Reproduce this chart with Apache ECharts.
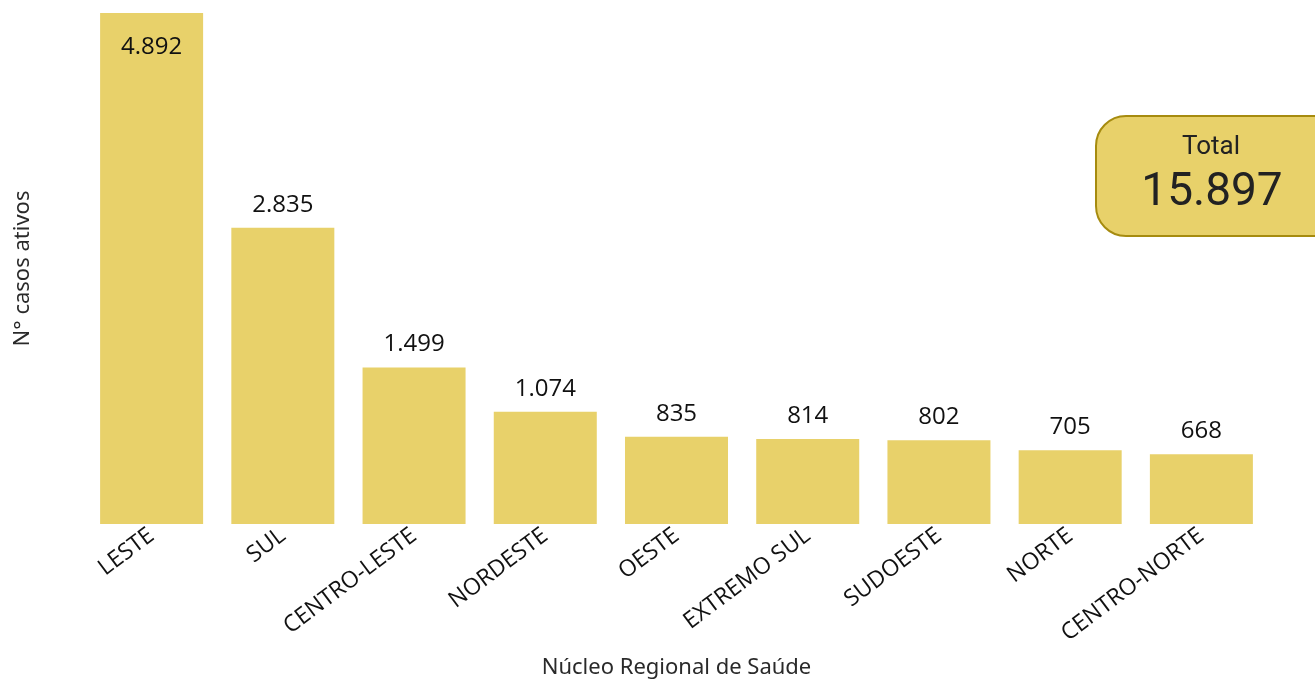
<!DOCTYPE html>
<html>
<head>
	<meta charset="utf-8">
	<title>Casos ativos por núcleo</title>
	<script src="https://cdn.jsdelivr.net/npm/echarts@6/dist/echarts.min.js"></script>
	<style>
		html, body { margin: 0; padding: 0; background: #fff; }
		#main { width: 1315px; height: 680px; }
	</style>
</head>
<body>
	<div id="main"></div>
	<script>
		var categories = ['LESTE', 'SUL', 'CENTRO-LESTE', 'NORDESTE', 'OESTE', 'EXTREMO SUL', 'SUDOESTE', 'NORTE', 'CENTRO-NORTE'];
		var casos = [4892, 2835, 1499, 1074, 835, 814, 802, 705, 668];
		var totalText = '15.897';

		function fmt(v) {
			return String(v).replace(/\B(?=(\d{3})+(?!\d))/g, '.');
		}

		var barData = casos.map(function (v, i) {
			var item = { value: v };
			// a barra maior leva o rótulo dentro
			if (i === 0) item.label = { position: 'insideTop', distance: 22 };
			return item;
		});

		var myChart = echarts.init(document.getElementById('main'));
		var option = {
			animation: false,
			grid: { left: 86, right: 48, top: 13, bottom: 156, outerBoundsMode: 'none', containLabel: false },
			xAxis: {
				type: 'category',
				data: categories,
				name: 'Núcleo Regional de Saúde',
				nameLocation: 'middle',
				nameGap: 133,
				nameTextStyle: { fontFamily: 'Noto Sans', fontSize: 22, color: '#2a2a2a' },
				axisLine: { show: false },
				axisTick: { show: false },
				axisLabel: {
					rotate: 37,
					interval: 0,
					margin: 9,
					fontFamily: 'Open Sans',
					fontSize: 23,
					color: '#111'
				}
			},
			yAxis: {
				type: 'value',
				min: 0,
				max: 4892,
				name: 'N° casos ativos',
				nameLocation: 'middle',
				nameGap: 52,
				nameRotate: 90,
				nameTextStyle: { fontFamily: 'Noto Sans', fontSize: 22, color: '#2a2a2a' },
				axisLine: { show: false },
				axisTick: { show: false },
				axisLabel: { show: false },
				splitLine: { show: false }
			},
			series: [{
				type: 'bar',
				data: barData,
				barCategoryGap: '21.5%',
				itemStyle: { color: '#e8d16a' },
				label: {
					show: true,
					position: 'top',
					distance: 11,
					fontFamily: 'Open Sans',
					fontSize: 24,
					color: '#111',
					formatter: function (p) { return fmt(p.value); }
				}
			}],
			graphic: [{
				type: 'group',
				left: 1095,
				top: 115,
				children: [{
					type: 'rect',
					shape: { x: 0, y: 0, width: 250, height: 120, r: 30 },
					style: { fill: '#e8d16a', stroke: '#a68b0f', lineWidth: 2 }
				}, {
					type: 'text',
					x: 115,
					y: 31,
					style: { text: 'Total', fontFamily: 'Roboto', fontSize: 26, fill: '#222', align: 'center', verticalAlign: 'middle' }
				}, {
					type: 'text',
					x: 116,
					y: 77,
					style: { text: totalText, fontFamily: 'Roboto', fontSize: 46, fill: '#222', align: 'center', verticalAlign: 'middle' }
				}]
			}]
		};
		myChart.setOption(option);
	</script>
</body>
</html>
